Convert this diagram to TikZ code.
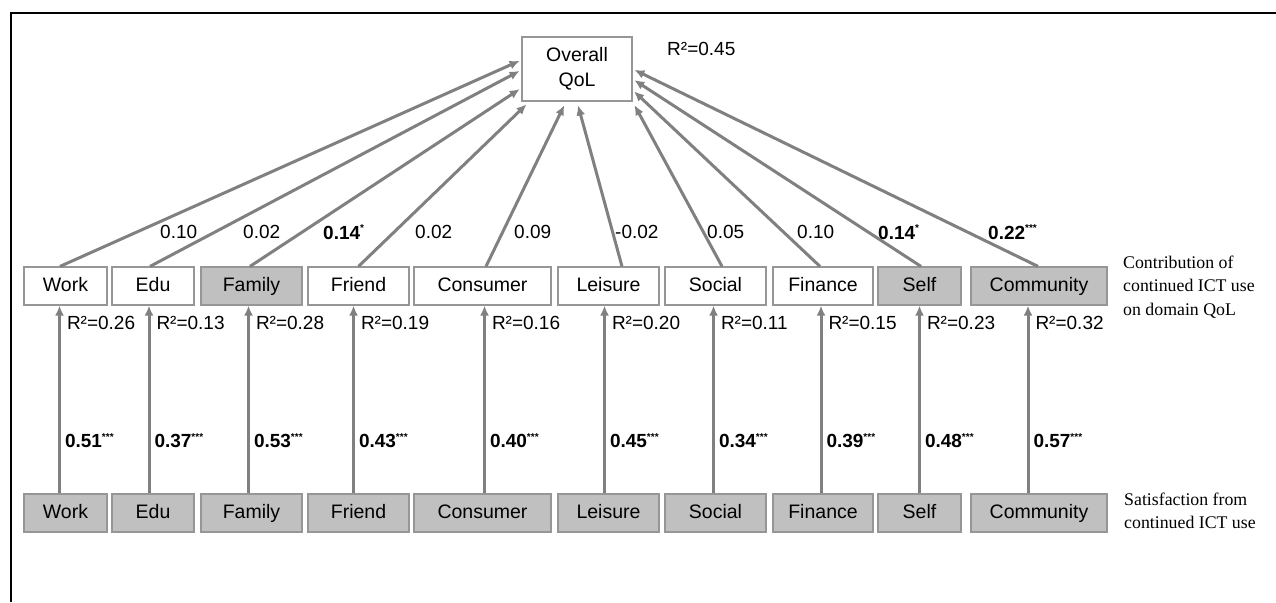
\documentclass[tikz,border=0pt]{standalone}
\usepackage{fontspec}
\setmainfont{Liberation Sans}
\newfontfamily\notefont{Liberation Serif}
\usetikzlibrary{arrows.meta}
\usetikzlibrary{positioning}
\definecolor{boxfill}{RGB}{192,192,192}
\definecolor{boxline}{RGB}{150,150,150}
\definecolor{linkgray}{RGB}{128,128,128}
\newcommand{\sig}[1]{\raisebox{0.75ex}{\fontsize{10}{10}\selectfont\bfseries #1}}

\tikzset{
  dombox/.style={draw=boxline, line width=1.2pt, minimum height=38pt, inner sep=0pt,
                 text height=14pt, text depth=4pt, font=\fontsize{19.5}{25}\selectfont},
  link/.style={draw=linkgray, line width=3pt, -{Latex[length=10pt,width=9pt]}},
  coef/.style={font=\fontsize{19}{23}\selectfont, inner sep=0pt},
  note/.style={font=\notefont\fontsize{17.8}{23.5}\selectfont, align=left, anchor=west, inner sep=0pt},
}

\begin{document}
\begin{tikzpicture}[x=1pt, y=-1pt]
            % Frame and page size:
            \useasboundingbox                                          (0, 0) rectangle (1276, 602);
            \draw[line width=2pt]                                      (11, 602) -- (11, 13) -- (1276, 13);

            % Overall QoL
            \node[dombox, fill=white, minimum width=110pt, minimum height=64pt, align=center,
                  text height=, text depth=]
                                            (qol)  at (577, 69)  {Overall\\QoL};
            \node[coef, anchor=west]        (qolr) at (667, 49)  {R²=0.45};

            % Domain QoL (middle) and satisfaction (bottom) rows
            \foreach \i/\t/\cx/\w/\f in {1/Work/65.5/83/white, 2/Edu/153/82/white, 3/Family/251.5/101/boxfill,
                                         4/Friend/358.5/101/white, 5/Consumer/482.5/137/white, 6/Leisure/608.5/101/white,
                                         7/Social/715.5/101/white, 8/Finance/823/100/white, 9/Self/919.5/83/boxfill,
                                         10/Community/1039/136/boxfill}
            {
                \node[dombox, fill=\f,       minimum width=\w pt] (m\i) at (\cx, 286) {\t};
                \node[dombox, fill=boxfill,  minimum width=\w pt] (s\i) at (\cx, 513) {\t};
            }

            % Satisfaction -> domain QoL
            \foreach \i/\dx/\b/\r in {1/-6/0.51/0.26, 2/-4/0.37/0.13, 3/-3/0.53/0.28, 4/-5/0.43/0.19,
                                      5/2/0.40/0.16, 6/-4/0.45/0.20, 7/-2/0.34/0.11, 8/-2/0.39/0.15,
                                      9/0/0.48/0.23, 10/-11/0.57/0.32}
                \draw[link] ([xshift=\dx pt]s\i.north) -- ([xshift=\dx pt]m\i.south)
                    node[coef, pos=0.28, anchor=west, xshift=4pt] {\textbf{\b}\sig{***}}
                    node[coef, pos=1,    anchor=west, xshift=6pt, yshift=-17pt] {R²=\r};

            % Domain QoL -> overall QoL
            \draw[link, shorten >=2pt] ([xshift=-5.5pt]m1.north)  -- ([yshift=9pt]qol.west);
            \draw[link, shorten >=2pt] ([xshift=-3pt]m2.north)    -- ([yshift=-1pt]qol.west);
            \draw[link, shorten >=2pt] ([xshift=-1.5pt]m3.north)  -- ([yshift=-19pt]qol.west);
            \draw[link, shorten >=4pt] (m4.north)                 -- ([xshift=8pt]qol.south west);
            \draw[link, shorten >=4pt] ([xshift=3.5pt]m5.north)   -- ([xshift=-11pt]qol.south);
            \draw[link, shorten >=4pt] ([xshift=13.5pt]m6.north)  -- (qol.south);
            \draw[link, shorten >=4pt] ([xshift=6.5pt]m7.north)   -- (qol.south east);
            \draw[link, shorten >=2pt] ([xshift=-3pt]m8.north)    -- ([yshift=-21pt]qol.east);
            \draw[link, shorten >=2pt] ([xshift=1.5pt]m9.north)   -- ([yshift=-10pt]qol.east);
            \draw[link, shorten >=2pt] ([xshift=-1pt]m10.north)   -- (qol.east);

            % Path coefficients
            \foreach \i/\x/\v in {1/160/0.10, 2/243/0.02, 3/323/\textbf{0.14}\sig{*},
                                  4/415/0.02, 5/514/0.09, 6/615/-0.02, 7/707/0.05, 8/797/0.10,
                                  9/878/\textbf{0.14}\sig{*},
                                  10/988/\textbf{0.22}\sig{***}}
                \node[coef, anchor=west] (c\i) at (\x, 232) {\v};

            % Row notes
            \node[note] (nmid) at (1123, 287) {Contribution of\\continued ICT use\\on domain QoL};
            \node[note] (nbot) at (1124, 511) {Satisfaction from\\continued ICT use};
        \end{tikzpicture}
\end{document}
